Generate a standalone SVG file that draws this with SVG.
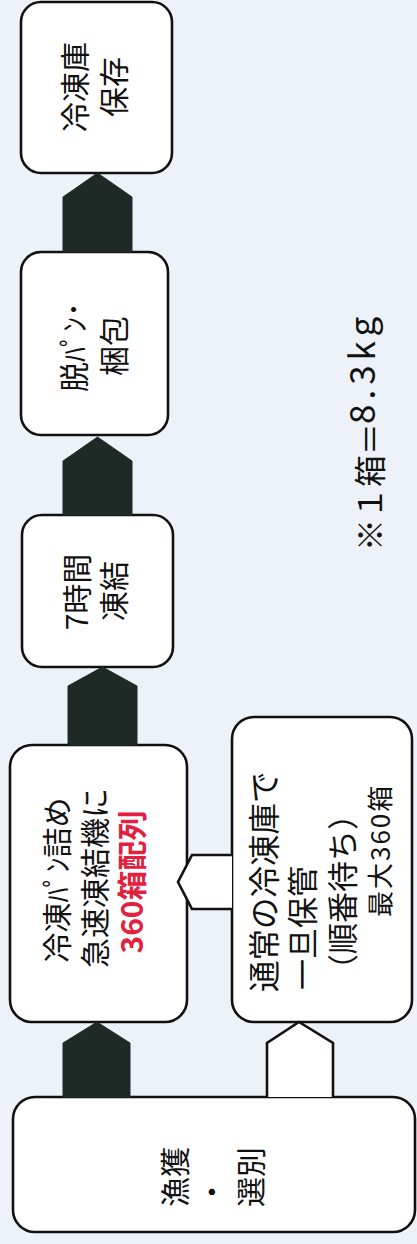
<svg xmlns="http://www.w3.org/2000/svg" width="417" height="1244" viewBox="0 0 417 1244">
<style>
.box{fill:#fff;stroke:#111;stroke-width:2.6}
.t{font-family:"Noto Sans CJK JP","Noto Sans",sans-serif;font-size:30px;fill:#111;dominant-baseline:central}
.m{text-anchor:middle}
.s{text-anchor:start}
.dark{fill:#1f2a27;stroke:#1f2a27;stroke-width:1}
.wfill{fill:#fff;stroke:none}
.wline{fill:none;stroke:#111;stroke-width:2.6;stroke-linejoin:miter}
</style>
<rect x="0" y="0" width="417" height="1244" fill="#edf1f8"/>
<g id="node-reitoko">
<rect class="box" x="21" y="2" width="151" height="171" rx="20"/>
<text class="t m" transform="translate(73,87) rotate(-90)">冷凍庫</text>
<text class="t m" transform="translate(112,87) rotate(-90)">保存</text>
</g>
<g id="node-datsupan">
<rect class="box" x="21" y="252" width="147" height="183" rx="20"/>
<text class="t m" transform="translate(72,347) rotate(-90)">脱ﾊﾟﾝ･</text>
<text class="t m" transform="translate(112,346) rotate(-90)">梱包</text>
</g>
<g id="node-touketsu">
<rect class="box" x="22" y="515" width="151" height="152" rx="20"/>
<text class="t m" transform="translate(75,592) rotate(-90)">7時間</text>
<text class="t m" transform="translate(112,591) rotate(-90)">凍結</text>
</g>
<g id="node-kyusoku">
<rect class="box" x="10" y="745" width="177" height="277" rx="22"/>
<text class="t m" transform="translate(55,880) rotate(-90)">冷凍ﾊﾟﾝ詰め</text>
<text class="t m" transform="translate(93,878) rotate(-90)">急速凍結機に</text>
<text class="t m" transform="translate(130,882) rotate(-90)" style="fill:#e3203f;font-weight:bold">360箱配列</text>
</g>
<g id="node-ichijihokan">
<rect class="box" x="232" y="717" width="180" height="305" rx="22"/>
<text class="t s" transform="translate(262,992) rotate(-90)" style="font-size:31.5px">通常の冷凍庫で</text>
<text class="t s" transform="translate(300,990) rotate(-90)" style="font-size:31px">一旦保管</text>
<text class="t s" transform="translate(340,985) rotate(-90)" style="font-size:31px">（順番待ち）</text>
<text class="t s" transform="translate(378,917) rotate(-90)" style="font-size:26px;letter-spacing:2px">最大360箱</text>
</g>
<g id="node-gyokaku">
<rect class="box" x="13" y="1097" width="402" height="135" rx="22"/>
<text class="t s" transform="translate(173,1207) rotate(-90)">漁獲</text>
<text class="t s" transform="translate(210,1207) rotate(-90)">・</text>
<text class="t s" transform="translate(249,1207) rotate(-90)">選別</text>
</g>
<g id="note">
<text class="t s" transform="translate(368,551) rotate(-90)" style="font-size:32px">※１箱＝</text>
<text class="t s" transform="translate(359,424) rotate(-90)" style="font-size:35px;letter-spacing:5px">8.3kg</text>
</g>
<g id="connectors">
<polygon class="dark" points="63,252 63,197 97.5,173 132,197 132,252"/>
<polygon class="dark" points="63,515 63,461 97.5,437 132,461 132,515"/>
<polygon class="dark" points="68,745 68,686 102.5,667 137,686 137,745"/>
<polygon class="dark" points="63,1097 63,1043 97,1022 130,1043 130,1097"/>
<polygon class="wfill" points="267,1097 267,1043 299,1022 333,1043 333,1097"/>
<polyline class="wline" points="267,1097 267,1043 299,1022 333,1043 333,1097"/>
<polygon class="wfill" points="232,855 192,855 178,882 192,909 232,909"/>
<polyline class="wline" points="232,855 192,855 178,882 192,909 232,909"/>
</g>
</svg>
